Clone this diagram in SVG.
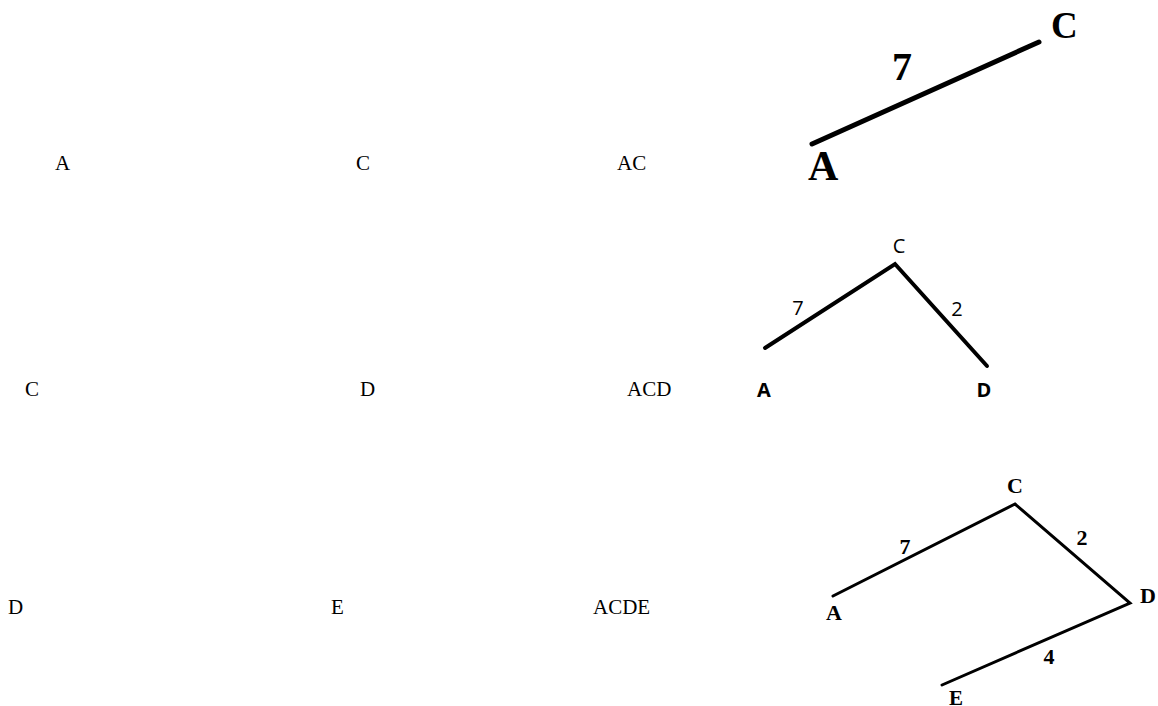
<svg xmlns="http://www.w3.org/2000/svg" width="1158" height="706" viewBox="0 0 1158 706">
<style>
.plain{font-family:"Liberation Serif","Times New Roman",serif;font-size:21px;fill:#000}
.bs{font-family:"Liberation Serif","Times New Roman",serif;font-weight:bold;fill:#000}
.ss{font-family:"Open Sans","Liberation Sans",Arial,sans-serif;font-size:20px;fill:#000}
.edge{stroke:#000;stroke-linecap:round;fill:none}
</style>
<rect width="1158" height="706" fill="#fff"/>
<g id="labels-row1">
<text class="plain" x="55" y="170">A</text>
<text class="plain" x="356" y="170">C</text>
<text class="plain" x="617" y="170">AC</text>
</g>
<g id="labels-row2">
<text class="plain" x="25" y="396">C</text>
<text class="plain" x="360" y="396">D</text>
<text class="plain" x="627" y="396">ACD</text>
</g>
<g id="labels-row3">
<text class="plain" x="8" y="614">D</text>
<text class="plain" x="331" y="614">E</text>
<text class="plain" x="593" y="614">ACDE</text>
</g>
<g id="connectors">
<line class="edge" x1="812" y1="144" x2="1039" y2="42" stroke-width="5"/>
<polyline class="edge" points="765,348 895,264 987,366" stroke-width="4"/>
<polyline class="edge" points="833,596 1015,504 1130,603 942,685" stroke-width="3"/>
</g>
<g id="fig1">
<text class="bs" x="808" y="180" font-size="42">A</text>
<text class="bs" x="1051" y="38" font-size="37">C</text>
<text class="bs" x="892" y="80" font-size="40">7</text>
</g>
<g id="fig2">
<text class="ss" x="899" y="253" text-anchor="middle" font-size="19">C</text>
<text class="ss" x="798" y="315" text-anchor="middle">7</text>
<text class="ss" x="957" y="316" text-anchor="middle">2</text>
<text class="ss" x="764" y="397" text-anchor="middle" font-weight="bold" font-size="21">A</text>
<text class="ss" x="984" y="397" text-anchor="middle" font-weight="bold" font-size="21">D</text>
</g>
<g id="fig3">
<text class="bs" x="1015" y="493" font-size="22" text-anchor="middle">C</text>
<text class="bs" x="905" y="554" font-size="22" text-anchor="middle">7</text>
<text class="bs" x="1082" y="545" font-size="22" text-anchor="middle">2</text>
<text class="bs" x="1049" y="664" font-size="22" text-anchor="middle">4</text>
<text class="bs" x="834" y="620" font-size="22" text-anchor="middle">A</text>
<text class="bs" x="1148" y="603" font-size="22" text-anchor="middle">D</text>
<text class="bs" x="956" y="705" font-size="21" text-anchor="middle">E</text>
</g>
</svg>
